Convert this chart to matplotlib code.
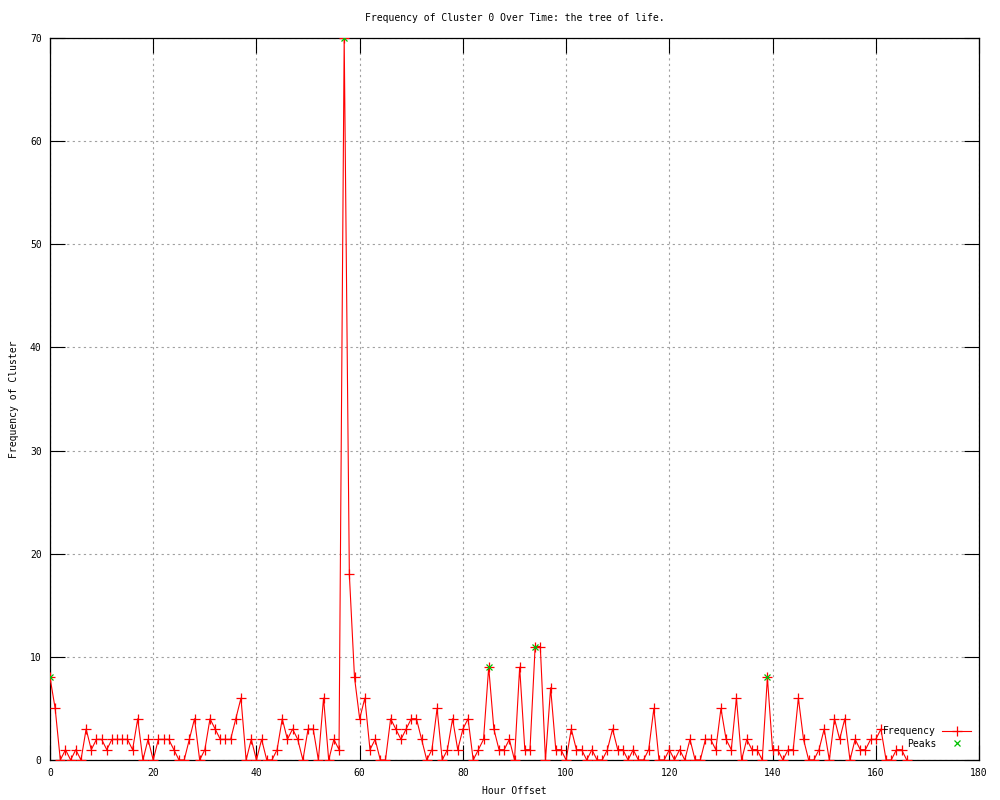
import matplotlib
matplotlib.use("Agg")
import matplotlib.pyplot as plt
import numpy as np

# hourly counts for cluster 0, hours 0..166
freq = [8, 5, 0, 1, 0, 1, 0, 3, 1, 2, 2, 1, 2, 2, 2, 2, 1, 4, 0, 2,
        0, 2, 2, 2, 1, 0, 0, 2, 4, 0, 1, 4, 3, 2, 2, 2, 4, 6, 0, 2,
        0, 2, 0, 0, 1, 4, 2, 3, 2, 0, 3, 3, 0, 6, 0, 2, 1, 70, 18, 8,
        4, 6, 1, 2, 0, 0, 4, 3, 2, 3, 4, 4, 2, 0, 1, 5, 0, 1, 4, 1,
        3, 4, 0, 1, 2, 9, 3, 1, 1, 2, 0, 9, 1, 1, 11, 11, 0, 7, 1, 1,
        0, 3, 1, 1, 0, 1, 0, 0, 1, 3, 1, 1, 0, 1, 0, 0, 1, 5, 0, 0,
        1, 0, 1, 0, 2, 0, 0, 2, 2, 1, 5, 2, 1, 6, 0, 2, 1, 1, 0, 8,
        1, 1, 0, 1, 1, 6, 2, 0, 0, 1, 3, 0, 4, 2, 4, 0, 2, 1, 1, 2,
        2, 3, 0, 0, 1, 1, 0]
hours = np.arange(len(freq))

peak_hours = [0, 57, 85, 94, 139]
peak_values = [freq[h] for h in peak_hours]

font = {"family": "DejaVu Sans Mono", "size": 7}

fig = plt.figure(figsize=(10, 8), dpi=100)
ax = fig.add_axes([0.05, 0.05, 0.929, 0.9025])

ax.plot(hours, freq, color="#ff0000", lw=0.8, marker="+", ms=7, mew=0.9,
        label="Frequency", zorder=3)
ax.plot(peak_hours, peak_values, ls="none", color="#00c000", marker="x",
        ms=5, mew=0.9, label="Peaks", zorder=4)

ax.set_xlim(0, 180)
ax.set_ylim(0, 70)
ax.set_xticks(np.arange(0, 181, 20))
ax.set_yticks(np.arange(0, 71, 10))
ax.tick_params(direction="in", length=11, width=0.8, top=True, right=True,
               labelsize=7, pad=6)
for lab in ax.get_xticklabels() + ax.get_yticklabels():
    lab.set_family("DejaVu Sans Mono")
ax.grid(True, color="#a0a0a0", ls=(0, (2, 3)), lw=0.8)
for s in ax.spines.values():
    s.set_linewidth(0.9)

ax.set_title("Frequency of Cluster 0 Over Time: the tree of life.", fontdict=font, pad=12)
ax.set_xlabel("Hour Offset", fontdict=font)
ax.set_ylabel("Frequency of Cluster", fontdict=font)
ax.xaxis.set_label_coords(0.5, -0.036)
ax.yaxis.set_label_coords(-0.033, 0.5)

leg = ax.legend(loc="lower right", bbox_to_anchor=(1.0, 0.005), frameon=False,
                prop=font, markerfirst=False, handlelength=3.0,
                handletextpad=0.6, labelspacing=0.25, borderpad=0.3)

fig.savefig("out.png", dpi=100)
